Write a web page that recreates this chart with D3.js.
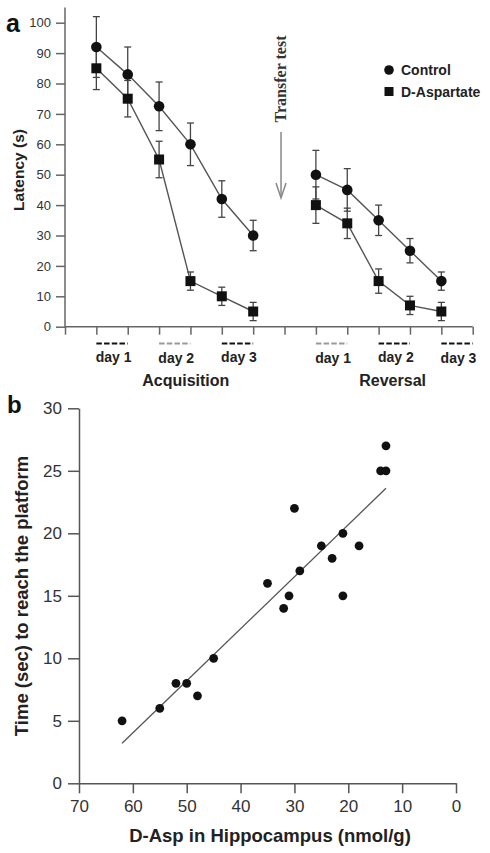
<!DOCTYPE html>
<html>
<head>
<meta charset="utf-8">
<script src="https://cdn.jsdelivr.net/npm/d3@7"></script>
<style>
  html, body { margin: 0; padding: 0; background: #fff; }
  svg { display: block; font-family: "Liberation Sans", Arial, sans-serif; }
</style>
</head>
<body>
<svg id="chart" width="490" height="853"></svg>
<script>
// ---------- Panel a data ----------
const acqSessions = [1, 2, 3, 4, 5, 6];
const revSessions = [8, 9, 10, 11, 12];
const acqControl = [92, 83, 72.5, 60, 42, 30];
const acqControlErr = [10, 9, 8, 7, 6, 5];
const acqDAsp = [85, 75, 55, 15, 10, 5];
const acqDAspErr = [7, 6, 6, 3, 3, 3];
const revControl = [50, 45, 35, 25, 15];
const revControlErr = [8, 7, 5, 4, 3];
const revDAsp = [40, 34, 15, 7, 5];
const revDAspErr = [6, 5, 4, 3, 3];
const latencyTicks = [0, 10, 20, 30, 40, 50, 60, 70, 80, 90, 100];
const dayLabels = ["day 1", "day 2", "day 3", "day 1", "day 2", "day 3"];
const dayStart = [1, 3, 5, 8, 10, 12];
const phaseLabels = ["Acquisition", "Reversal"];
const seriesNames = ["Control", "D-Aspartate"];
const transferSession = 7;

// ---------- Panel b data ----------
const daspX = [62, 55, 52, 50, 48, 45, 35, 32, 31, 30, 29, 25, 23, 21, 21, 18, 14, 13, 13];
const timeY = [5, 6, 8, 8, 7, 10, 16, 14, 15, 22, 17, 19, 18, 20, 15, 19, 25, 25, 27];
const fitX = [62, 13];
const fitY = [3.2, 23.6];
const bXTicks = [70, 60, 50, 40, 30, 20, 10, 0];
const bYTicks = [0, 5, 10, 15, 20, 25, 30];

const svg = d3.select("#chart");
const FONT = '"Liberation Sans", Arial, sans-serif';

// ================= Panel a =================
const ax = d3.scaleLinear().domain([0, 13]).range([65, 472.7]);
const ay = d3.scaleLinear().domain([0, 100]).range([326.7, 22.7]);
const ga = svg.append("g");

// y axis
const yAxisA = d3.axisLeft(ay).tickValues(latencyTicks).tickSize(9).tickPadding(5);
const gya = ga.append("g").attr("transform", `translate(${ax(0)},0)`).call(yAxisA);
gya.select(".domain").remove();
gya.append("line").attr("x1", 0).attr("x2", 0).attr("y1", ay(0)).attr("y2", ay(105))
  .attr("stroke", "#666").attr("stroke-width", 1.5);
gya.selectAll(".tick line").attr("stroke", "#666").attr("stroke-width", 1.5);
gya.selectAll(".tick text").attr("font-size", 13).attr("fill", "#333").attr("font-family", FONT);

// x axis (ticks only)
const xAxisA = d3.axisBottom(ax).tickValues(d3.range(0, 14)).tickSize(8).tickFormat("");
const gxa = ga.append("g").attr("transform", `translate(0,${ay(0)})`).call(xAxisA);
gxa.select(".domain").attr("stroke", "#666").attr("stroke-width", 1.5).attr("d", `M${ax(0)},0H${ax(13)}`);
gxa.selectAll(".tick line").attr("stroke", "#666").attr("stroke-width", 1.5);

// day dashes + labels
const dashColors = ["#111", "#999", "#111", "#999", "#111", "#111"];
dayLabels.forEach((lab, i) => {
  const x0 = ax(dayStart[i]), x1 = ax(dayStart[i] + 1);
  ga.append("line").attr("x1", x0).attr("x2", x1).attr("y1", 343.5).attr("y2", 343.5)
    .attr("stroke", dashColors[i]).attr("stroke-width", 2).attr("stroke-dasharray", "5.5,2.2");
  ga.append("text").attr("x", (x0 + x1) / 2 + 1.5).attr("y", i % 2 === 1 ? 363 : 361.5)
    .attr("text-anchor", "middle").attr("font-size", 14).attr("font-weight", "bold")
    .attr("fill", "#222").attr("font-family", FONT).text(lab);
});
// phase labels
const phaseCenters = [ (ax(acqSessions[0]) + ax(acqSessions[5])) / 2 + 11, (ax(revSessions[0]) + ax(revSessions[4])) / 2 + 14 ];
phaseLabels.forEach((p, i) => {
  ga.append("text").attr("x", phaseCenters[i]).attr("y", 385.5).attr("text-anchor", "middle")
    .attr("font-size", 16).attr("font-weight", "bold").attr("fill", "#222")
    .attr("font-family", FONT).text(p);
});

// y label
ga.append("text").attr("transform", `translate(24,170) rotate(-90)`).attr("text-anchor", "middle")
  .attr("font-size", 15.5).attr("font-weight", "bold").attr("fill", "#222")
  .attr("font-family", FONT).text("Latency (s)");

// panel letter
svg.append("text").attr("x", 6).attr("y", 32).attr("font-size", 25).attr("font-weight", "bold")
  .attr("font-family", FONT).attr("fill", "#111").text("a");

// error bars
function errBars(xs, ys, es) {
  xs.forEach((s, i) => {
    const x = ax(s), yt = ay(ys[i] + es[i]), yb = ay(ys[i] - es[i]);
    ga.append("line").attr("x1", x).attr("x2", x).attr("y1", yt).attr("y2", yb)
      .attr("stroke", "#444").attr("stroke-width", 1.3);
    [yt, yb].forEach(yy => ga.append("line").attr("x1", x - 3.5).attr("x2", x + 3.5)
      .attr("y1", yy).attr("y2", yy).attr("stroke", "#444").attr("stroke-width", 1.3));
  });
}
errBars(acqSessions, acqControl, acqControlErr);
errBars(acqSessions, acqDAsp, acqDAspErr);
errBars(revSessions, revControl, revControlErr);
errBars(revSessions, revDAsp, revDAspErr);

// lines
const lineGen = d3.line().x(d => ax(d[0])).y(d => ay(d[1]));
[[acqSessions, acqControl], [acqSessions, acqDAsp], [revSessions, revControl], [revSessions, revDAsp]]
  .forEach(([xs, ys]) => {
    ga.append("path").datum(xs.map((s, i) => [s, ys[i]])).attr("d", lineGen)
      .attr("fill", "none").attr("stroke", "#555").attr("stroke-width", 1.4);
  });

// markers
function circles(xs, ys) {
  ga.selectAll(null).data(xs.map((s, i) => [s, ys[i]])).enter().append("circle")
    .attr("cx", d => ax(d[0])).attr("cy", d => ay(d[1])).attr("r", 5.3).attr("fill", "#111");
}
function squares(xs, ys) {
  ga.selectAll(null).data(xs.map((s, i) => [s, ys[i]])).enter().append("rect")
    .attr("x", d => ax(d[0]) - 5).attr("y", d => ay(d[1]) - 5).attr("width", 10).attr("height", 10)
    .attr("fill", "#111");
}
circles(acqSessions, acqControl);
squares(acqSessions, acqDAsp);
circles(revSessions, revControl);
squares(revSessions, revDAsp);

// transfer test arrow + text
const tx = ax(transferSession) - 3.5;
ga.append("text").attr("transform", `translate(${tx + 5},79) rotate(-90)`).attr("text-anchor", "middle")
  .attr("font-family", '"Liberation Serif", "Times New Roman", serif').attr("font-weight", "bold")
  .attr("font-size", 16).attr("fill", "#333").text("Transfer test");
ga.append("line").attr("x1", tx).attr("x2", tx).attr("y1", 132).attr("y2", 197)
  .attr("stroke", "#888").attr("stroke-width", 1.5);
ga.append("path").attr("d", `M${tx - 5},183 L${tx},198 L${tx + 5},183`).attr("fill", "none")
  .attr("stroke", "#888").attr("stroke-width", 1.5);

// legend
const lg = ga.append("g").attr("transform", "translate(389,0)");
lg.append("circle").attr("cx", 0).attr("cy", 70).attr("r", 4.8).attr("fill", "#111");
lg.append("rect").attr("x", -4.5).attr("y", 87).attr("width", 9).attr("height", 9).attr("fill", "#111");
seriesNames.forEach((n, i) => {
  lg.append("text").attr("x", 12).attr("y", 75 + i * 21.5).attr("font-size", 14)
    .attr("font-weight", "bold").attr("fill", "#222").attr("font-family", FONT).text(n);
});

// ================= Panel b =================
const bx = d3.scaleLinear().domain([70, 0]).range([79, 456]);
const by = d3.scaleLinear().domain([0, 30]).range([783.3, 408.3]);
const gb = svg.append("g");

const gyb = gb.append("g").attr("transform", `translate(${bx(70)},0)`)
  .call(d3.axisLeft(by).tickValues(bYTicks).tickSize(11).tickPadding(6).tickSizeOuter(0));
gyb.select(".domain").attr("stroke", "#555").attr("stroke-width", 1.5);
gyb.selectAll(".tick line").attr("stroke", "#555").attr("stroke-width", 1.5);
gyb.selectAll(".tick text").attr("font-size", 17).attr("fill", "#333").attr("font-family", FONT);

const gxb = gb.append("g").attr("transform", `translate(0,${by(0)})`)
  .call(d3.axisBottom(bx).tickValues(bXTicks).tickSize(10).tickPadding(7).tickSizeOuter(0));
gxb.select(".domain").attr("stroke", "#555").attr("stroke-width", 1.5);
gxb.selectAll(".tick line").attr("stroke", "#555").attr("stroke-width", 1.5);
gxb.selectAll(".tick text").attr("font-size", 17).attr("fill", "#333").attr("font-family", FONT);

// fit line
gb.append("line").attr("x1", bx(fitX[0])).attr("y1", by(fitY[0]))
  .attr("x2", bx(fitX[1])).attr("y2", by(fitY[1])).attr("stroke", "#555").attr("stroke-width", 1.3);

// points
gb.selectAll(null).data(daspX.map((x, i) => [x, timeY[i]])).enter().append("circle")
  .attr("cx", d => bx(d[0])).attr("cy", d => by(d[1])).attr("r", 4.4).attr("fill", "#111");

// labels
gb.append("text").attr("x", 270).attr("y", 842).attr("text-anchor", "middle").attr("font-size", 18.5)
  .attr("font-weight", "bold").attr("fill", "#222").attr("font-family", FONT)
  .text("D-Asp in Hippocampus (nmol/g)");
gb.append("text").attr("transform", "translate(28,596) rotate(-90)").attr("text-anchor", "middle")
  .attr("font-size", 18.5).attr("font-weight", "bold").attr("fill", "#222").attr("font-family", FONT)
  .text("Time (sec) to reach the platform");
svg.append("text").attr("x", 7).attr("y", 413).attr("font-size", 24).attr("font-weight", "bold")
  .attr("font-family", FONT).attr("fill", "#111").text("b");
</script>
</body>
</html>
